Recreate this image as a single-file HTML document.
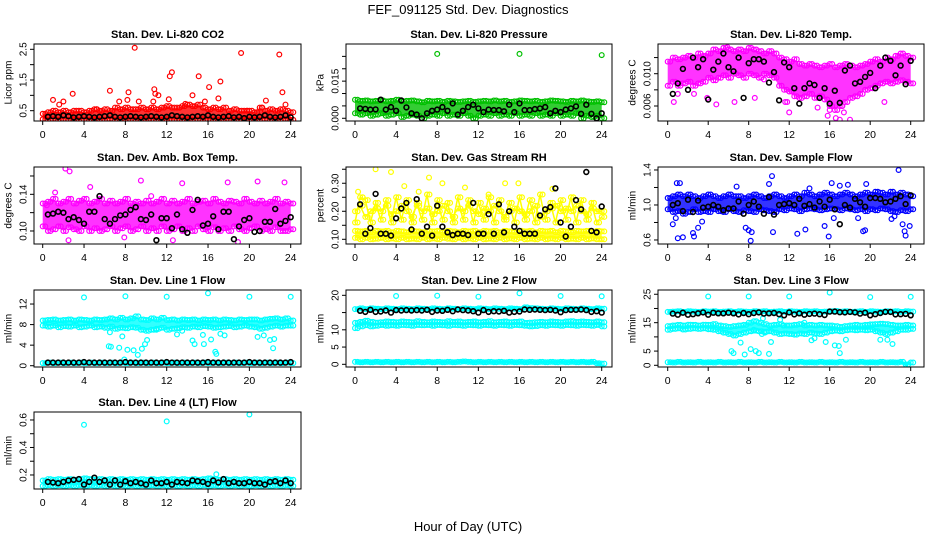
<!DOCTYPE html>
<html><head><meta charset="utf-8"><style>
html,body{margin:0;padding:0;background:#fff;}
svg{display:block;font-family:"Liberation Sans",sans-serif;}
</style></head><body>
<svg id="chart" width="936" height="540" viewBox="0 0 936 540" xmlns="http://www.w3.org/2000/svg">
<rect width="936" height="540" fill="#fff"/>
<text x="468" y="14" text-anchor="middle" font-size="13">FEF_091125  Std. Dev. Diagnostics</text>
<text x="468" y="531" text-anchor="middle" font-size="13">Hour of Day (UTC)</text>
</svg>
<script>
// ---- data (values at half-hour steps, 0..24) ----
const co2Lo=[0.22,0.2,0.22,0.2,0.21,0.2,0.22,0.2,0.21,0.2,0.22,0.21,0.2,0.22,0.2,0.21,0.22,0.2,0.21,0.2,0.22,0.2,0.21,0.2,0.22,0.2,0.21,0.2,0.22,0.2,0.21,0.22,0.2,0.21,0.2,0.22,0.2,0.21,0.2,0.22,0.2,0.21,0.2,0.22,0.2,0.21,0.2,0.22,0.2];
const co2Hi=[0.4,0.45,0.5,0.45,0.5,0.45,0.5,0.5,0.45,0.5,0.55,0.5,0.55,0.5,0.6,0.55,0.6,0.55,0.55,0.6,0.55,0.6,0.55,0.6,0.65,0.6,0.6,0.65,0.7,0.65,0.7,0.6,0.55,0.6,0.55,0.6,0.5,0.55,0.5,0.5,0.5,0.45,0.6,0.5,0.55,0.5,0.55,0.5,0.45];
const co2OutX=[1.0,1.6,2.0,2.9,6.5,7.4,8.3,8.2,8.9,9.3,10.8,10.9,11.2,10.7,12.3,12.5,12.2,14.5,15.1,15.7,16.1,17.0,17.2,19.2,21.6,22.9,23.2,23.5,21.2,19.8,13.8,5.2];
const co2OutY=[0.85,0.7,0.8,1.05,1.15,0.8,1.1,0.85,2.55,0.8,1.2,1.05,1.0,0.8,1.62,1.75,0.87,1.0,1.62,0.8,1.27,0.9,1.45,2.38,0.83,2.33,1.1,0.7,0.6,0.5,0.72,0.55];
const co2Black=[0.3,0.32,0.3,0.35,0.32,0.28,0.3,0.32,0.3,0.28,0.3,0.32,0.35,0.3,0.28,0.3,0.32,0.3,0.28,0.3,0.32,0.3,0.28,0.3,0.35,0.32,0.3,0.28,0.3,0.32,0.3,0.35,0.3,0.28,0.3,0.32,0.28,0.3,0.26,0.3,0.28,0.3,0.35,0.3,0.28,0.3,0.35,0.28];

const presLo=[0.002,0.0015,0.002,0.001,0.0015,0.002,0.001,0.0015,0.002,0.0005,0.001,0.0015,0.001,0.0,0.001,0.0015,0.001,0.002,0.001,0.0015,0.001,0.002,0.001,0.0,0.001,0.0015,0.001,0.002,0.001,0.0015,0.001,0.002,0.001,0.0015,0.001,0.002,0.001,0.0015,0.001,0.002,0.001,0.0015,0.001,0.002,0.0,0.001,0.0005,0.001,0.0];
const presHi=[0.0075,0.007,0.0072,0.0068,0.007,0.0072,0.0068,0.007,0.0075,0.0068,0.007,0.0072,0.0068,0.0065,0.007,0.0068,0.007,0.0066,0.007,0.0068,0.0066,0.0068,0.007,0.0066,0.0068,0.007,0.0068,0.0072,0.0068,0.007,0.0066,0.0068,0.0072,0.007,0.0068,0.007,0.0066,0.0068,0.0072,0.007,0.0068,0.0066,0.007,0.0068,0.0072,0.0068,0.0066,0.0068,0.0065];
const presOutX=[8,16,24];
const presOutY=[0.026,0.026,0.0255];
const presBlack=[0.004,0.0038,0.0035,0.0036,0.0075,0.0035,0.0045,0.003,0.0072,0.0044,0.002,0.0015,0.0,0.002,0.003,0.0035,0.0045,0.003,0.006,0.0015,0.003,0.0045,0.0055,0.004,0.0025,0.0035,0.0033,0.0033,0.0028,0.0055,0.0025,0.006,0.0033,0.0033,0.0037,0.004,0.0045,0.002,0.003,0.0025,0.0035,0.004,0.0048,0.0018,0.0055,0.0018,0.0,0.002];

const tempLo=[0.0085,0.009,0.0085,0.0088,0.009,0.0085,0.0088,0.009,0.0095,0.0092,0.0095,0.0098,0.0095,0.01,0.0098,0.0095,0.01,0.0098,0.0095,0.01,0.0098,0.0095,0.0085,0.008,0.0078,0.0072,0.007,0.0072,0.0075,0.007,0.0072,0.0068,0.006,0.0055,0.006,0.0065,0.007,0.0072,0.0075,0.008,0.0082,0.0085,0.0088,0.009,0.0088,0.009,0.0092,0.009,0.0088];
const tempHi=[0.0115,0.012,0.0118,0.012,0.0122,0.012,0.0125,0.0122,0.0125,0.013,0.0128,0.0132,0.013,0.0128,0.013,0.0128,0.0132,0.013,0.0128,0.0125,0.0128,0.0125,0.012,0.0118,0.0115,0.0118,0.0112,0.011,0.0112,0.011,0.0108,0.011,0.0112,0.0108,0.011,0.0112,0.011,0.0108,0.011,0.0112,0.0115,0.0118,0.0115,0.012,0.0118,0.0122,0.0125,0.0122,0.012];
const tempOutX=[0.6,1.0,2.6,3.9,4.8,6.6,8.6,11.8,12.0,14.8,15.8,16.0,16.6,17.0,17.2,17.4,18.0,21.4,11.6,5.9,9.5];
const tempOutY=[0.0065,0.0075,0.0075,0.007,0.0062,0.0065,0.007,0.0065,0.0052,0.0058,0.0048,0.0055,0.0045,0.0043,0.006,0.0052,0.0043,0.0065,0.0065,0.0133,0.0093];
const tempBlack=[0.0075,0.0088,0.0106,0.008,0.012,0.0108,0.0118,0.0068,0.0105,0.0115,0.0125,0.0108,0.0103,0.012,0.007,0.0113,0.0118,0.0118,0.0115,0.0089,0.0102,0.0067,0.0114,0.0108,0.0082,0.0063,0.0082,0.0088,0.0086,0.007,0.0082,0.0063,0.0079,0.0064,0.0104,0.011,0.0088,0.009,0.0096,0.0101,0.0082,0.011,0.012,0.0116,0.0098,0.011,0.0087,0.0116];

const boxLo=[0.105,0.1,0.102,0.105,0.1,0.104,0.102,0.1,0.105,0.1,0.103,0.1,0.102,0.105,0.1,0.103,0.105,0.1,0.102,0.105,0.1,0.103,0.1,0.105,0.1,0.102,0.105,0.1,0.103,0.1,0.105,0.102,0.1,0.104,0.1,0.103,0.1,0.105,0.102,0.1,0.103,0.105,0.1,0.102,0.1,0.104,0.1,0.1,0.102];
const boxHi=[0.13,0.132,0.135,0.13,0.132,0.135,0.13,0.133,0.135,0.13,0.132,0.135,0.13,0.133,0.13,0.132,0.135,0.13,0.132,0.13,0.133,0.13,0.132,0.135,0.13,0.133,0.13,0.132,0.135,0.13,0.132,0.133,0.13,0.135,0.132,0.13,0.133,0.132,0.13,0.135,0.132,0.13,0.133,0.13,0.132,0.135,0.13,0.132,0.13];
const boxOutX=[2.2,2.6,1.2,4.6,9.5,13.5,17.9,20.8,23.4,2.5,18.9,12.6,7.9,0.4,10.5];
const boxOutY=[0.168,0.165,0.142,0.148,0.155,0.152,0.153,0.154,0.153,0.09,0.088,0.09,0.093,0.128,0.138];
const boxBlack=[0.118,0.119,0.121,0.12,0.113,0.115,0.112,0.108,0.121,0.121,0.138,0.113,0.108,0.113,0.117,0.118,0.123,0.126,0.113,0.112,0.118,0.09,0.114,0.114,0.103,0.118,0.102,0.098,0.123,0.134,0.106,0.108,0.116,0.102,0.121,0.121,0.091,0.105,0.112,0.114,0.099,0.1,0.11,0.11,0.124,0.108,0.111,0.115];

const rhLo=[0.105,0.1,0.105,0.1,0.102,0.105,0.1,0.103,0.1,0.105,0.1,0.102,0.1,0.105,0.1,0.103,0.1,0.105,0.102,0.1,0.105,0.1,0.103,0.1,0.105,0.1,0.102,0.1,0.105,0.1,0.103,0.1,0.105,0.1,0.102,0.1,0.105,0.1,0.103,0.1,0.105,0.1,0.102,0.1,0.105,0.1,0.103,0.1,0.1];
const rhHi=[0.13,0.128,0.13,0.125,0.13,0.128,0.13,0.125,0.13,0.128,0.125,0.13,0.128,0.125,0.13,0.128,0.13,0.125,0.13,0.128,0.125,0.13,0.128,0.13,0.125,0.13,0.128,0.13,0.125,0.13,0.128,0.125,0.13,0.128,0.13,0.125,0.13,0.128,0.13,0.125,0.13,0.128,0.125,0.13,0.128,0.13,0.125,0.13,0.128];
const rhMid=[0.2,0.22,0.18,0.2,0.21,0.2,0.22,0.19,0.2,0.22,0.2,0.18,0.22,0.2,0.21,0.19,0.2,0.22,0.2,0.18,0.21,0.2,0.22,0.2,0.19,0.21,0.2,0.22,0.2,0.18,0.2,0.21,0.2,0.19,0.2,0.22,0.18,0.2,0.21,0.22,0.2,0.21,0.2,0.22,0.2,0.19,0.21,0.2,0.2];
const rhMid2=[0.16,0.25,0.24,0.16,0.23,0.17,0.24,0.16,0.25,0.17,0.24,0.16,0.23,0.17,0.26,0.16,0.24,0.17,0.23,0.16,0.25,0.17,0.24,0.16,0.23,0.17,0.25,0.16,0.24,0.17,0.23,0.16,0.25,0.17,0.24,0.16,0.26,0.17,0.23,0.16,0.24,0.17,0.25,0.16,0.24,0.17,0.23,0.16,0.18];
const rhOutX=[2.0,3.5,7.2,8.5,4.8,10.7,14.6,15.9,19.2,0.3,6.2,13.0];
const rhOutY=[0.35,0.34,0.32,0.3,0.29,0.285,0.3,0.3,0.28,0.27,0.27,0.26];
const rhBlack=[0.225,0.12,0.14,0.262,0.12,0.12,0.113,0.175,0.21,0.23,0.135,0.243,0.12,0.145,0.113,0.22,0.145,0.125,0.115,0.12,0.12,0.115,0.23,0.12,0.12,0.19,0.12,0.225,0.125,0.2,0.145,0.13,0.12,0.12,0.12,0.185,0.207,0.215,0.282,0.16,0.11,0.145,0.24,0.207,0.34,0.13,0.125,0.217];

const flowLo=[0.95,0.92,0.93,0.9,0.92,0.95,0.92,0.93,0.92,0.95,0.93,0.92,0.95,0.93,0.92,0.94,0.93,0.92,0.95,0.94,0.93,0.92,0.95,0.94,0.96,0.95,0.93,0.95,0.96,0.95,0.94,0.95,0.96,0.95,0.94,0.96,0.95,0.94,0.95,0.93,0.95,0.94,0.96,0.95,0.93,0.92,0.94,0.93,0.95];
const flowHi=[1.08,1.1,1.12,1.1,1.12,1.1,1.08,1.1,1.12,1.1,1.08,1.1,1.12,1.1,1.1,1.08,1.1,1.12,1.1,1.08,1.1,1.12,1.1,1.08,1.1,1.12,1.1,1.14,1.12,1.1,1.12,1.14,1.12,1.1,1.12,1.14,1.12,1.1,1.12,1.14,1.12,1.15,1.14,1.12,1.15,1.12,1.14,1.12,1.1];
const flowOutX=[0.5,0.8,1.0,1.2,1.5,2.5,2.6,3.4,3.0,7.7,8.0,8.2,8.3,10.0,10.3,10.4,12.8,13.6,15.5,15.9,16.2,16.4,17.0,17.8,18.8,19.3,19.6,22.1,22.4,22.8,23.2,23.4,23.5,23.9,0.9,6.8,14.0,19.5];
const flowOutY=[0.78,0.85,0.62,1.25,0.63,0.68,0.64,0.81,0.74,0.74,0.71,0.59,0.69,1.24,1.33,0.69,0.67,0.72,0.76,0.64,1.25,0.85,1.22,1.23,0.85,0.7,1.24,0.84,0.87,1.4,0.78,0.7,0.65,0.76,1.25,1.21,1.19,0.71];
const flowBlack=[1.0,1.02,0.93,1.06,0.92,1.05,0.97,0.98,1.0,0.98,0.94,0.96,0.96,1.04,0.9,1.0,1.04,0.98,0.9,1.09,0.89,1.0,1.01,1.02,1.0,1.07,0.99,1.01,0.97,1.04,0.98,1.06,0.95,0.78,1.0,0.97,1.07,1.03,0.98,1.08,1.08,1.07,1.03,1.04,1.07,1.1,1.01,1.11];

const l1Lo=[7.8,7.6,7.8,7.5,7.7,7.6,7.8,7.5,7.6,7.8,7.5,7.6,7.4,7.6,7.2,7.4,7.3,7.5,7.4,7.0,6.8,7.0,7.2,7.4,7.0,7.2,7.3,7.5,7.4,7.6,7.5,7.7,7.6,7.4,7.5,7.6,7.7,7.5,7.6,7.8,7.6,7.5,7.2,7.4,7.6,7.8,7.6,7.8,7.8];
const l1Hi=[8.8,8.9,9.0,8.8,8.9,9.0,8.8,9.0,8.9,8.8,9.0,8.9,9.0,9.2,9.0,9.3,9.0,9.2,9.6,9.0,8.9,9.2,9.0,9.3,8.9,9.0,8.8,9.0,8.9,9.0,8.8,9.0,8.9,9.0,8.8,9.0,8.9,8.8,9.0,8.9,9.0,9.0,8.8,9.0,9.1,9.2,9.0,9.2,8.8];
const l1Base=[0.5,0.6,0.5,0.6,0.5,0.6,0.5,0.6,0.5,0.6,0.5,0.6,0.5,0.6,0.5,0.6,0.5,0.6,0.5,0.6,0.5,0.6,0.5,0.6,0.5,0.6,0.5,0.6,0.5,0.6,0.5,0.6,0.5,0.6,0.5,0.6,0.5,0.6,0.5,0.6,0.5,0.6,0.5,0.6,0.5,0.6,0.5,0.6,0.5];
const l1OutX=[4,8,12,16,20,24,6.4,6.6,7.4,7.9,8.2,8.8,9.2,9.6,9.9,10.1,7.7,14.5,14.7,15.5,15.6,16.7,16.8,17.2,17.6,20.8,21.4,22.0,22.3,22.4,6.5,13.0,13.5,16.3,11.0];
const l1OutY=[13.3,13.5,13.4,14.1,13.4,13.4,3.8,3.7,3.5,1.2,3.1,3.0,2.1,3.3,4.2,5.0,5.7,4.9,4.2,6.0,4.2,2.7,2.3,6.2,5.9,5.6,5.9,5.0,3.4,5.2,6.5,6.1,6.8,5.1,7.0];
const l1Black=[0.6,0.6,0.6,0.6,0.6,0.6,0.6,0.7,0.6,0.6,0.6,0.6,0.6,0.6,0.6,0.7,0.6,0.6,0.6,0.6,0.6,0.6,0.6,0.7,0.6,0.6,0.6,0.6,0.6,0.6,0.6,0.7,0.6,0.6,0.6,0.6,0.6,0.6,0.6,0.7,0.6,0.6,0.6,0.6,0.6,0.6,0.6,0.7];

const l2Lo=[10.5,11.0,11.3,11.0,11.2,11.4,11.2,11.3,11.2,11.4,11.3,11.2,11.4,11.3,11.4,11.2,11.4,11.3,11.2,11.4,11.3,11.2,11.4,11.3,11.2,11.4,11.3,11.2,11.4,11.3,11.2,11.4,11.3,11.2,11.0,11.1,11.3,11.2,11.4,11.3,11.2,11.4,11.3,11.2,11.4,11.3,11.2,11.4,11.0];
const l2Hi=[12.0,12.3,12.6,12.3,12.1,12.2,12.4,12.3,12.2,12.4,12.3,12.2,12.5,12.3,12.2,12.4,12.3,12.2,12.5,12.3,12.4,12.2,12.3,12.4,12.2,12.3,12.5,12.2,12.3,12.4,12.2,12.3,12.4,12.0,12.1,12.2,12.3,12.2,12.4,12.3,12.2,12.4,12.5,12.3,12.4,12.3,12.2,12.4,12.2];
const l2Top=[16.0,16.2,16.0,16.2,16.1,16.0,16.2,16.1,16.0,16.2,16.1,16.0,16.2,16.1,16.0,16.2,16.1,16.0,16.2,16.1,16.0,16.2,16.1,16.0,16.2,16.1,16.0,16.2,16.1,16.0,16.2,16.1,16.0,16.5,16.3,16.2,16.1,16.0,16.2,16.1,16.0,16.2,16.1,16.0,16.2,16.1,16.0,16.2,16.1];
const l2Base=[0.7,0.6,0.7,0.6,0.7,0.6,0.7,0.6,0.7,0.6,0.7,0.6,0.7,0.6,0.7,0.6,0.7,0.6,0.7,0.6,0.7,0.8,0.7,0.6,0.7,0.6,0.7,0.6,0.7,0.6,0.7,0.6,0.7,0.6,0.7,0.6,0.7,0.6,0.7,0.6,0.7,0.6,0.7,0.6,0.7,0.6,0.7,0.3,0.2];
const l2OutX=[4,8,12,16,20,24];
const l2OutY=[19.8,19.9,19.6,20.6,19.8,19.7];
const l2Black=[15.5,15.2,15.8,15.2,15.3,15.6,15.0,15.7,15.6,15.7,15.6,15.7,15.6,15.8,15.2,15.6,15.5,15.8,15.4,15.9,15.7,15.6,15.4,15.0,15.7,15.2,15.4,15.3,15.5,15.0,15.2,15.3,15.9,15.8,15.9,15.8,15.7,15.8,15.6,15.1,15.7,15.8,15.8,15.9,15.7,15.2,15.4,15.0];

const l3Lo=[12.5,12.8,13.0,12.6,12.8,13.0,12.8,13.0,12.7,12.5,12.0,11.5,11.0,10.5,11.0,11.5,12.0,12.2,12.0,11.8,12.0,11.5,11.0,11.2,11.0,10.8,11.2,11.0,11.5,11.2,11.0,11.5,12.0,12.2,12.0,12.3,12.5,12.3,12.5,12.3,12.5,12.0,11.5,11.0,11.5,12.0,12.5,12.5,12.8];
const l3Hi=[13.8,14.0,14.2,14.0,14.3,14.2,14.0,14.3,14.2,14.5,14.0,13.8,13.5,13.8,14.0,14.2,15.0,15.5,15.0,14.5,14.0,14.2,14.5,14.0,14.0,14.2,14.5,14.0,14.2,14.0,14.2,14.0,14.0,13.8,13.5,13.8,14.0,14.2,14.0,14.2,14.4,14.5,14.6,14.5,14.2,14.0,14.0,14.2,14.0];
const l3Top=[18.8,18.9,19.0,18.8,19.0,18.9,18.8,19.0,18.9,19.0,18.8,18.9,19.0,18.8,19.0,18.9,18.8,19.0,18.9,19.0,18.8,18.9,19.0,18.8,19.0,18.9,18.8,19.0,18.9,19.0,18.8,18.9,19.0,19.1,18.9,19.0,18.8,18.9,19.0,18.8,19.0,18.9,18.8,19.0,18.9,19.0,18.8,19.0,18.9];
const l3Base=[1.1,1.0,1.2,1.0,1.1,1.0,1.2,1.0,1.1,1.0,1.2,1.0,1.1,1.0,1.2,1.0,1.1,1.0,1.2,1.0,1.1,1.0,1.2,1.0,1.1,1.0,1.2,1.0,1.1,1.0,1.2,1.0,1.1,1.0,1.2,1.0,1.1,1.0,1.2,1.0,1.1,1.0,1.2,1.0,1.1,1.0,1.2,0.3,1.0];
const l3OutX=[4,8,12,16,20,24,6.3,6.5,7.2,7.6,8.2,8.7,9.0,9.4,9.6,10.0,10.2,11.4,11.1,13.5,14.2,14.5,15.6,16.5,16.9,17.0,17.6,21.0,21.7,22.2,8.5,9.3];
const l3OutY=[24.2,24.2,24.2,25.6,24.0,24.1,5.0,4.3,8.0,3.8,5.7,5.0,4.3,16.5,11.5,4.0,8.2,14.0,16.0,15.0,8.8,9.5,8.2,7.0,6.8,4.3,9.0,9.0,9.0,7.5,12.5,11.0];
const l3Black=[18.2,17.8,18.5,17.8,18.0,18.3,18.6,17.8,18.5,18.3,18.3,18.5,18.3,17.9,18.4,18.0,18.4,18.6,18.2,18.3,18.4,18.0,17.6,18.6,17.9,18.3,17.8,18.1,18.2,18.0,17.7,18.9,18.9,18.7,18.6,18.8,18.6,18.2,18.5,17.6,18.0,18.4,18.8,18.8,17.9,18.0,18.1,17.6];

const l4Lo=[0.12,0.125,0.12,0.125,0.12,0.125,0.12,0.125,0.12,0.125,0.12,0.125,0.12,0.125,0.12,0.125,0.12,0.125,0.12,0.125,0.12,0.125,0.12,0.125,0.12,0.125,0.12,0.125,0.12,0.125,0.12,0.125,0.12,0.125,0.12,0.125,0.12,0.125,0.12,0.125,0.12,0.125,0.12,0.125,0.12,0.125,0.12,0.125,0.12];
const l4Hi=[0.16,0.17,0.165,0.17,0.165,0.17,0.165,0.17,0.175,0.17,0.165,0.17,0.165,0.17,0.165,0.17,0.165,0.17,0.165,0.17,0.165,0.17,0.165,0.17,0.165,0.17,0.165,0.17,0.165,0.17,0.165,0.17,0.175,0.17,0.165,0.17,0.165,0.17,0.165,0.17,0.165,0.17,0.165,0.17,0.165,0.17,0.165,0.17,0.165];
const l4OutX=[4,12,20,16.8];
const l4OutY=[0.565,0.59,0.64,0.205];
const l4Black=[0.15,0.145,0.14,0.15,0.16,0.165,0.17,0.13,0.15,0.18,0.15,0.16,0.13,0.16,0.13,0.155,0.14,0.15,0.14,0.13,0.16,0.14,0.14,0.15,0.13,0.15,0.145,0.14,0.16,0.155,0.15,0.135,0.16,0.145,0.17,0.14,0.15,0.14,0.14,0.15,0.14,0.14,0.13,0.15,0.155,0.14,0.16,0.14];

const xTicks=[0,4,8,12,16,20,24];

// ---- layout (pixel geometry, not data) ----
const COLS=[{bx0:34,bx1:301,x0:42.7,x24:290.7,lab:8},{bx0:346,bx1:612,x0:355,x24:601.7,lab:320},{bx0:658,bx1:924,x0:667.7,x24:910.7,lab:632}];
const ROWS=[{by0:44,by1:121},{by0:167,by1:244},{by0:290,by1:367},{by0:412,by1:489}];

const panels=[
 {name:'li820-co2',title:'Stan. Dev. Li-820 CO2',ylab:'Licor ppm',r:0,c:0,dom:[0.164,2.673],color:'#ff0000',lo:co2Lo,hi:co2Hi,extra:[],ox:co2OutX,oy:co2OutY,black:co2Black,ticks:[0.5,1,1.5,2,2.5],labels:['0.5','','1.5','','2.5']},
 {name:'li820-pressure',title:'Stan. Dev. Li-820 Pressure',ylab:'kPa',r:0,c:1,dom:[-0.0011,0.030],color:'#00c000',lo:presLo,hi:presHi,extra:[],ox:presOutX,oy:presOutY,black:presBlack,ticks:[0,0.005,0.01,0.015,0.02,0.025],labels:['0.000','','','0.015','','']},
 {name:'li820-temp',title:'Stan. Dev. Li-820 Temp.',ylab:'degrees C',r:0,c:2,dom:[0.00414,0.01368],color:'#ff00ff',lo:tempLo,hi:tempHi,extra:[],ox:tempOutX,oy:tempOutY,black:tempBlack,ticks:[0.006,0.008,0.01,0.012],labels:['0.006','','0.010','']},
 {name:'amb-box-temp',title:'Stan. Dev. Amb. Box Temp.',ylab:'degrees C',r:1,c:0,dom:[0.0858,0.1698],color:'#ff00ff',lo:boxLo,hi:boxHi,extra:[],ox:boxOutX,oy:boxOutY,black:boxBlack,ticks:[0.1,0.12,0.14,0.16],labels:['0.10','','0.14','']},
 {name:'gas-stream-rh',title:'Stan. Dev. Gas Stream RH',ylab:'percent',r:1,c:1,dom:[0.0832,0.358],color:'#ffff00',lo:rhLo,hi:rhHi,extra:[rhMid,rhMid2],ox:rhOutX,oy:rhOutY,black:rhBlack,ticks:[0.1,0.15,0.2,0.25,0.3,0.35],labels:['0.10','','0.20','','0.30','']},
 {name:'sample-flow',title:'Stan. Dev. Sample Flow',ylab:'ml/min',r:1,c:2,dom:[0.554,1.434],color:'#0000ff',lo:flowLo,hi:flowHi,extra:[],ox:flowOutX,oy:flowOutY,black:flowBlack,ticks:[0.6,0.8,1.0,1.2,1.4],labels:['0.6','','1.0','','1.4']},
 {name:'line1-flow',title:'Stan. Dev. Line 1 Flow',ylab:'ml/min',r:2,c:0,dom:[-0.25,14.73],color:'#00ffff',lo:l1Lo,hi:l1Hi,extra:[l1Base],ox:l1OutX,oy:l1OutY,black:l1Black,ticks:[0,4,8,12],labels:['0','4','8','12']},
 {name:'line2-flow',title:'Stan. Dev. Line 2 Flow',ylab:'ml/min',r:2,c:1,dom:[-0.78,21.54],color:'#00ffff',lo:l2Lo,hi:l2Hi,extra:[l2Top,l2Base],ox:l2OutX,oy:l2OutY,black:l2Black,ticks:[0,5,10,15,20],labels:['0','5','10','','20']},
 {name:'line3-flow',title:'Stan. Dev. Line 3 Flow',ylab:'ml/min',r:2,c:2,dom:[-0.6,26.5],color:'#00ffff',lo:l3Lo,hi:l3Hi,extra:[l3Top,l3Base],ox:l3OutX,oy:l3OutY,black:l3Black,ticks:[0,5,10,15,20,25],labels:['0','5','','15','','25']},
 {name:'line4-lt-flow',title:'Stan. Dev. Line 4 (LT) Flow',ylab:'ml/min',r:3,c:0,dom:[0.098,0.658],color:'#00ffff',lo:l4Lo,hi:l4Hi,extra:[],ox:l4OutX,oy:l4OutY,black:l4Black,ticks:[0.2,0.3,0.4,0.5,0.6],labels:['0.2','','0.4','','0.6']}
];

const NS='http://www.w3.org/2000/svg';
const svg=document.getElementById('chart');
function mk(tag,attrs,parent){const e=document.createElementNS(NS,tag);for(const k in attrs)e.setAttribute(k,attrs[k]);(parent||svg).appendChild(e);return e;}

panels.forEach(p=>{
  const C=COLS[p.c],R=ROWS[p.r];
  const xs=h=>C.x0+(C.x24-C.x0)*h/24;
  const ys=v=>R.by1-(v-p.dom[0])/(p.dom[1]-p.dom[0])*(R.by1-R.by0);
  const g=mk('g',{});
  
  
  const clip=mk('clipPath',{id:'clip-'+p.name},g);
  mk('rect',{x:C.bx0,y:R.by0,width:C.bx1-C.bx0,height:R.by1-R.by0},clip);
  const marks=mk('g',{'clip-path':'url(#clip-'+p.name+')'},g);
  
  
  let d='';
  p.hi.forEach((v,i)=>{d+=(i?'L':'M')+xs(i*0.5).toFixed(1)+' '+ys(v).toFixed(1);});
  for(let i=p.lo.length-1;i>=0;i--)d+='L'+xs(i*0.5).toFixed(1)+' '+ys(p.lo[i]).toFixed(1);
  const band=mk('path',{d:d+'Z',fill:p.color,'fill-opacity':0.8,stroke:'none'},marks);
  
  
  const pt=(x,y,col,w)=>{const c=mk('circle',{cx:x.toFixed(1),cy:y.toFixed(1),r:2.4,fill:'none',stroke:col,'stroke-width':w},marks);
    
    };
  [p.lo,p.hi].concat(p.extra).forEach(arr=>{
    if(p.extra.indexOf(arr)>=0){
      let dd='';arr.forEach((v,i)=>{dd+=(i?'L':'M')+xs(i*0.5).toFixed(1)+' '+ys(v).toFixed(1);});
      const ln=mk('path',{d:dd,fill:'none',stroke:p.color,'stroke-width':p.color==='#ffff00'?1.5:3},marks);
      
      
    }
    arr.forEach((v,i)=>{pt(xs(i*0.5),ys(v),p.color,1.2);pt(xs(i*0.5+0.25),ys(v),p.color,1.2);});
  });
  p.ox.forEach((h,i)=>pt(xs(h),ys(p.oy[i]),p.color,1.2));
  p.black.forEach((v,i)=>pt(xs(0.5*(i+1)),ys(v),'#000',1.6));
  const box=mk('rect',{x:C.bx0,y:R.by0,width:C.bx1-C.bx0,height:R.by1-R.by0,fill:'none',stroke:'#000','stroke-width':1},g);
  
  
  const t=mk('text',{x:(C.bx0+C.bx1)/2,y:R.by0-6,'text-anchor':'middle','font-size':11,'font-weight':'bold'},g);
  t.textContent=p.title;
  
  
  const yc=(R.by0+R.by1)/2;
  const yl=mk('text',{x:C.lab,y:yc,'text-anchor':'middle','font-size':10,transform:'rotate(-90 '+C.lab+' '+yc+')',dy:'0.35em'},g);
  yl.textContent=p.ylab;
  
  
  const yx=C.bx0;
  const ya=mk('g',{},g);
  
  
  p.ticks.forEach((v,i)=>{
    mk('line',{x1:yx,x2:yx-4,y1:ys(v),y2:ys(v),stroke:'#000'},ya);
    if(p.labels[i]){const lx=yx-11;const tl=mk('text',{x:lx,y:ys(v),'text-anchor':'middle','font-size':10,transform:'rotate(-90 '+lx+' '+ys(v)+')',dy:'0.35em'},ya);tl.textContent=p.labels[i];
      
      }
  });
  const xa=mk('g',{},g);
  
  
  const axY=R.by1;
  xTicks.forEach(h=>{
    mk('line',{x1:xs(h),x2:xs(h),y1:axY,y2:axY+4,stroke:'#000'},xa);
    const tl=mk('text',{x:xs(h),y:axY+17,'text-anchor':'middle','font-size':10.5},xa);
    tl.textContent=String(h);
    
    
  });
});
</script>
</body></html>
